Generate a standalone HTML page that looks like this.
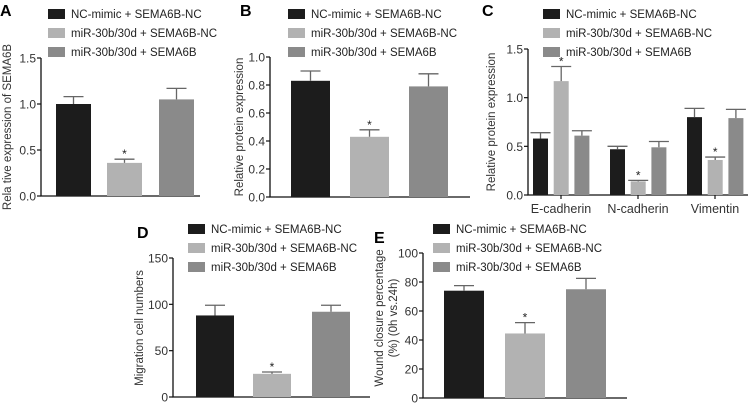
<!DOCTYPE html>
<html><head><meta charset="utf-8"><style>
html,body{margin:0;padding:0;background:#fff;}
svg{display:block;font-family:"Liberation Sans",Arial,sans-serif;}
</style></head><body>
<svg id="fig" width="750" height="405" viewBox="0 0 750 405" xmlns="http://www.w3.org/2000/svg"></svg>
<script>
const seriesNames = ["NC-mimic + SEMA6B-NC","miR-30b/30d + SEMA6B-NC","miR-30b/30d + SEMA6B"];
const colors = ["#1c1c1c","#b2b2b2","#8a8a8a"];
const aValues = [1.0, 0.36, 1.05];
const aErrors = [0.08, 0.04, 0.12];
const aTicks = ["0.0","0.5","1.0","1.5"];
const bValues = [0.83, 0.43, 0.79];
const bErrors = [0.07, 0.05, 0.09];
const bTicks = ["0.0","0.2","0.4","0.6","0.8","1.0"];
const cCategories = ["E-cadherin","N-cadherin","Vimentin"];
const cValues = [[0.58,0.47,0.80],[1.17,0.14,0.36],[0.61,0.49,0.79]];
const cErrors = [[0.06,0.03,0.09],[0.15,0.01,0.03],[0.05,0.06,0.09]];
const cTicks = ["0.0","0.5","1.0","1.5"];
const dValues = [88, 25, 92];
const dErrors = [11, 2, 7];
const dTicks = ["0","50","100","150"];
const eValues = [74, 44.5, 75];
const eErrors = [3.5, 7.5, 7.5];
const eTicks = ["0","20","40","60","80","100"];
const sig = [false, true, false];
const cSig = [[false,false,false],[true,true,true],[false,false,false]];

const NS = "http://www.w3.org/2000/svg";
const svg = document.getElementById("fig");
function mk(tag, attrs, parent, text){
  const e = document.createElementNS(NS, tag);
  for (const k in attrs) e.setAttribute(k, attrs[k]);
  if (text !== undefined) e.textContent = text;
  (parent || svg).appendChild(e);
  return e;
}
function panel(p){
  const g = mk("g", {});
  
  
  const ymax = parseFloat(p.ticks[p.ticks.length-1]);
  const yS = v => p.y0 - (v / ymax) * (p.y0 - p.y1);
  const L = mk("text", {x:p.lx, y:p.ly, "font-size":16, "font-weight":"bold", fill:"#000"}, g, p.id);
  
  
  seriesNames.forEach((n,i)=>{
    const r = mk("rect", {x:p.legX, y:p.legY + i*19 - 5, width:17, height:10, fill:colors[i]}, g);
    
    
    const t = mk("text", {x:p.legX + 23, y:p.legY + i*19 + 4, "font-size":11.5, fill:"#222"}, g, n);
    
    
  });
  const ax = mk("path", {d:`M${p.ax},${p.y1} V${p.y0} H${p.axEnd}`, stroke:"#111", "stroke-width":1.3, fill:"none"}, g);
  
  
  p.ticks.forEach(tk=>{
    const y = yS(parseFloat(tk));
    mk("line", {x1:p.ax-4, x2:p.ax, y1:y, y2:y, stroke:"#111", "stroke-width":1.2}, g);
    const t = mk("text", {x:p.ax-5, y:y+4.5, "font-size":12, "text-anchor":"end", fill:"#333"}, g, tk);
    
    
  });
  p.title.forEach((line,i)=>{
    const tx = p.tx + i*14;
    const t = mk("text", {x:tx, y:p.ty, "font-size":11.5, "text-anchor":"middle", fill:"#333", transform:`rotate(-90 ${tx} ${p.ty})`}, g, line);
    
    
  });
  p.bars.forEach(b=>{
    const top = yS(b.v), et = yS(b.v + b.e);
    const cx = b.x + b.w/2;
    const r = mk("rect", {x:b.x, y:top, width:b.w, height:p.y0-top, fill:colors[b.s]}, g);
    
    
    const eb = mk("path", {d:`M${cx},${top} V${et} M${cx-10},${et} H${cx+10}`, stroke:"#666", "stroke-width":1.3, fill:"none"}, g);
    
    
    if (b.sig){
      const s = mk("text", {x:cx, y:et-1, "font-size":12, "text-anchor":"middle", fill:"#222"}, g, "*");
      
      
    }
  });
  (p.cats||[]).forEach(c=>{
    mk("line", {x1:c.x, x2:c.x, y1:p.y0, y2:p.y0+4, stroke:"#111", "stroke-width":1.2}, g);
    const t = mk("text", {x:c.x, y:p.y0+18, "font-size":12.5, "text-anchor":"middle", fill:"#333"}, g, c.label);
    
    
  });
}
function simpleBars(vals, errs, xs, w){
  return vals.map((v,i)=>({v, e:errs[i], x:xs[i], w, s:i, sig:sig[i]}));
}
panel({id:"A", lx:0, ly:16, legX:48, legY:14, ax:41, axEnd:200, y0:196, y1:58, ticks:aTicks,
  title:["Rela tive expression of SEMA6B"], tx:11, ty:127,
  bars:simpleBars(aValues, aErrors, [56,107,159], 35)});
panel({id:"B", lx:240, ly:16, legX:288, legY:14, ax:270, axEnd:470, y0:197, y1:57, ticks:bTicks,
  title:["Relative protein expression"], tx:243, ty:127,
  bars:simpleBars(bValues, bErrors, [291,350,409], 39)});
const cGroupStart = [533, 610, 687];
const cBars = [];
cCategories.forEach((c,gi)=>{
  for (let s=0;s<3;s++) cBars.push({v:cValues[s][gi], e:cErrors[s][gi], x:cGroupStart[gi]+s*20.7, w:15, s, sig:cSig[s][gi]});
});
panel({id:"C", lx:482, ly:16, legX:543, legY:14, ax:528, axEnd:748, y0:195, y1:49, ticks:cTicks,
  title:["Relative protein expression"], tx:495, ty:122, bars:cBars,
  cats:cCategories.map((l,i)=>({label:l, x:cGroupStart[i]+28}))});
panel({id:"D", lx:137, ly:238, legX:188, legY:229, ax:173, axEnd:370, y0:397, y1:258, ticks:dTicks,
  title:["Migration cell numbers"], tx:143, ty:328,
  bars:simpleBars(dValues, dErrors, [196,253,312], 38)});
panel({id:"E", lx:374, ly:243, legX:433, legY:229, ax:423, axEnd:627, y0:398, y1:253, ticks:eTicks,
  title:["Wound closure percentage","(%) (0h vs.24h)"], tx:383, ty:318,
  bars:simpleBars(eValues, eErrors, [444,505,566], 40)});
</script>
</body></html>
